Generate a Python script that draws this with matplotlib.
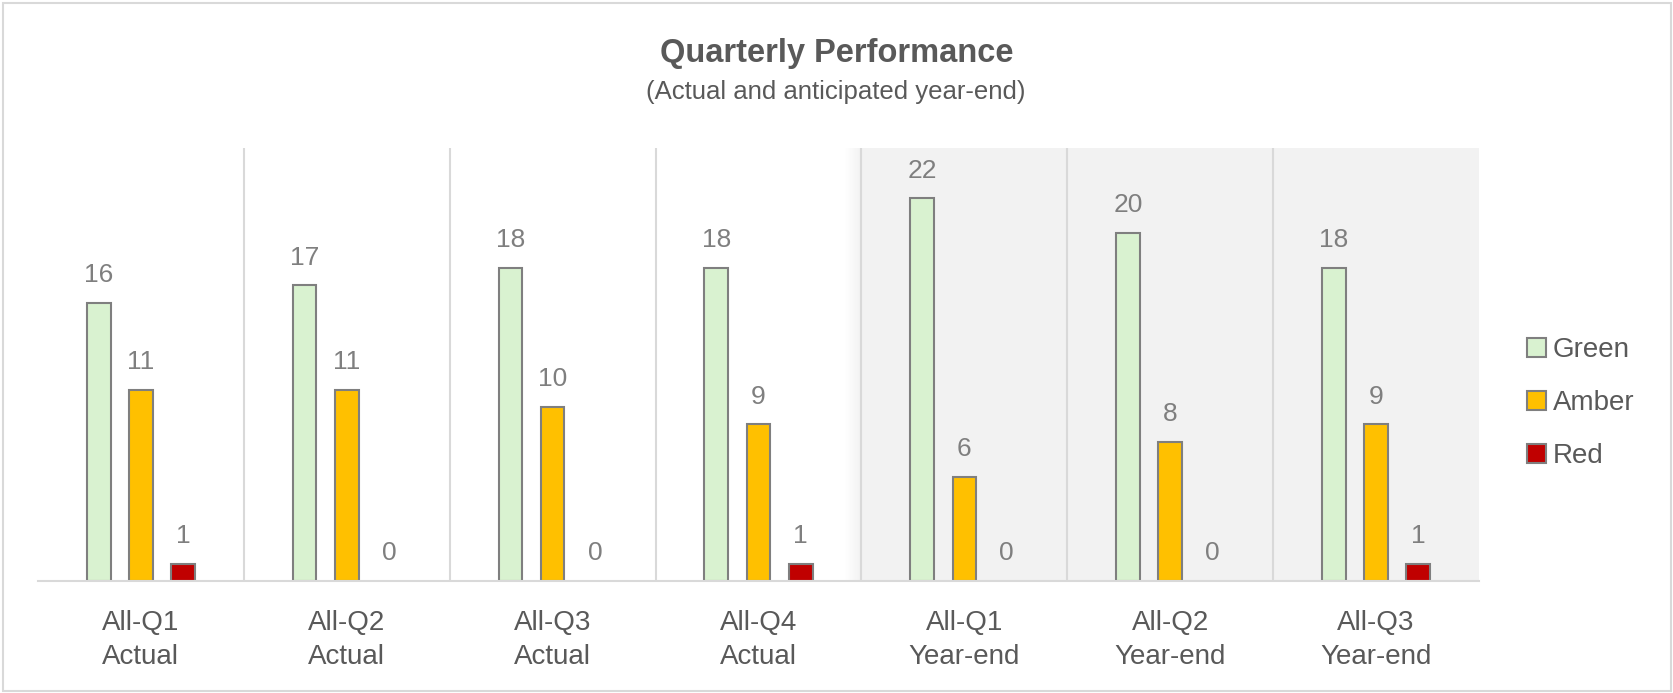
import numpy as np
import matplotlib
matplotlib.use("Agg")
import matplotlib.pyplot as plt
from matplotlib.patches import Rectangle
from matplotlib.colors import LinearSegmentedColormap

plt.rcParams['font.family'] = ['Liberation Sans', 'DejaVu Sans']

# ---- data ----
categories = ["All-Q1\nActual", "All-Q2\nActual", "All-Q3\nActual", "All-Q4\nActual",
              "All-Q1\nYear-end", "All-Q2\nYear-end", "All-Q3\nYear-end"]
series_names = ["Green", "Amber", "Red"]
green = [16, 17, 18, 18, 22, 20, 18]
amber = [11, 11, 10, 9, 6, 8, 9]
red = [1, 0, 0, 1, 0, 0, 1]
title = "Quarterly Performance"
subtitle = "(Actual and anticipated year-end)"

# ---- styling ----
colors = ["#d9f2d0", "#ffc000", "#c00000"]
edge = "#7f7f7f"
W, H = 1674, 693
fig = plt.figure(figsize=(W / 100, H / 100), dpi=100)
fig.patch.set_facecolor("white")

# outer border
fig.patches.append(Rectangle((3 / W, 2 / H), (1671 - 3) / W, (690 - 2) / H,
                             transform=fig.transFigure, fill=False,
                             edgecolor="#d9d9d9", linewidth=1.5, zorder=0))

ax = fig.add_axes([38 / W, 1 - 581 / H, (1479 - 38) / W, (581 - 148) / H])
ax.set_xlim(-0.5, len(categories) - 0.5)
ax.set_ylim(0, 24.9)
ax.set_facecolor("none")

# shaded year-end region with a soft left edge
ax.axvspan(3.5, len(categories) - 0.5, color="#f2f2f2", zorder=0, linewidth=0)
grad = np.linspace(0, 1, 64).reshape(1, -1)
cmap = LinearSegmentedColormap.from_list("g", ["#ffffff", "#f2f2f2"])
ax.imshow(grad, extent=[3.42, 3.5, 0, 24.9], aspect="auto", cmap=cmap, zorder=0)

# group separators
for xs in np.arange(0.5, len(categories) - 1, 1.0):
    ax.axvline(xs, color="#d9d9d9", linewidth=1.5, zorder=0.5)

x = np.arange(len(categories))
offsets = [-0.205, 0.0, 0.205]
width = 0.115
for vals, off, col in zip([green, amber, red], offsets, colors):
    lws = [1.5 if v > 0 else 0 for v in vals]
    ax.bar(x + off, vals, width=width, color=col, edgecolor=edge,
           linewidth=lws, zorder=2)
    for xi, v in zip(x, vals):
        ax.annotate(str(v), (xi + off, v), xytext=(0, 15), textcoords="offset points",
                    ha="center", va="baseline", fontsize=19, color="#7f7f7f", zorder=3)

for s in ["top", "right", "left"]:
    ax.spines[s].set_visible(False)
ax.spines["bottom"].set_color("#d9d9d9")
ax.spines["bottom"].set_linewidth(1.5)
ax.spines["bottom"].set_zorder(4)
ax.set_yticks([])
ax.set_xticks(x)
ax.set_xticklabels(categories)
ax.tick_params(axis="x", length=0, pad=21, labelsize=20, labelcolor="#595959")
for lab in ax.get_xticklabels():
    lab.set_linespacing(1.4)

# legend
handles = [Rectangle((0, 0), 1, 1, facecolor=c, edgecolor=edge, linewidth=1.5) for c in colors]
fig.legend(handles, series_names, loc="center left",
           bbox_to_anchor=(1527 / W, 1 - 403 / H), frameon=False,
           fontsize=20, labelcolor="#595959", handlelength=0.68, handleheight=0.68,
           handletextpad=0.25, labelspacing=0.97, borderpad=0, borderaxespad=0)

# titles
fig.text(837 / W, 1 - 62 / H, title, ha="center", va="baseline",
         fontsize=23.5, fontweight="bold", color="#595959")
fig.text(836 / W, 1 - 99 / H, subtitle, ha="center", va="baseline",
         fontsize=18.5, color="#595959")

fig.savefig("out.png", dpi=100)
